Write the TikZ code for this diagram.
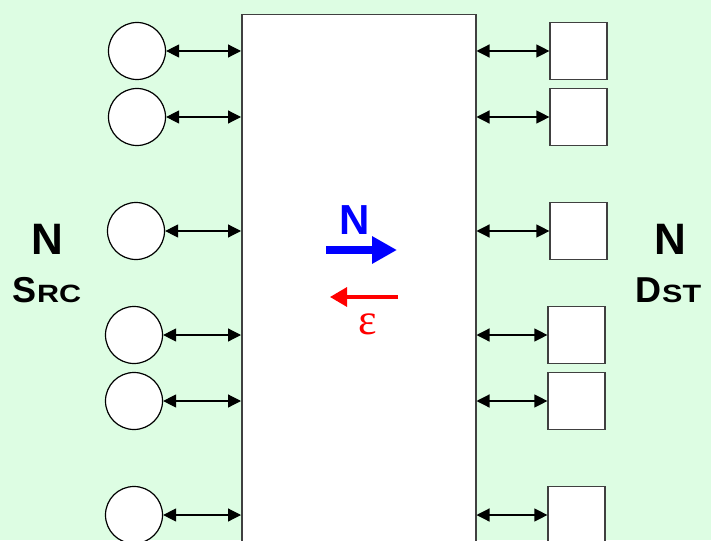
\documentclass[tikz,border=0pt]{standalone}
\usepackage{fontspec}
\usepackage{graphicx}
\setmainfont{Liberation Sans}
\newfontfamily\serifx{Liberation Serif}
\usetikzlibrary{arrows.meta}
\definecolor{bg}{RGB}{221,253,227}
\definecolor{edge}{RGB}{64,64,64}
\begin{document}
\begin{tikzpicture}[x=1pt,y=-1pt,
  src/.style={circle,draw=black,fill=white,line width=1.2pt,minimum size=57pt,inner sep=0pt},
  dst/.style={rectangle,draw=edge,fill=white,line width=1.2pt,minimum width=57pt,minimum height=57pt,inner sep=0pt},
  conn/.style={line width=1.2pt,{Triangle[length=13pt,width=13pt]}-{Triangle[length=13pt,width=13pt]}},
  big/.style={font=\fontsize{44}{44}\selectfont\bfseries,anchor=base,inner sep=0pt},
  sclabel/.style={font=\bfseries,anchor=base west,inner sep=0pt}]
\fill[bg] (0,0) rectangle (711,540);
\useasboundingbox (0,0) rectangle (711,540);
\node[draw=edge,fill=white,line width=1.5pt,rectangle,minimum width=234pt,minimum height=560pt,inner sep=0pt,anchor=north west] (box) at (241,14) {};
% sources
\node[src] (s1) at (137,51) {};
\node[src] (s2) at (137,117) {};
\node[src] (s3) at (136,231) {};
\node[src] (s4) at (134,335) {};
\node[src] (s5) at (134,401) {};
\node[src] (s6) at (134,515) {};
% destinations
\node[dst] (d1) at (578.5,51) {};
\node[dst] (d2) at (578.5,117) {};
\node[dst] (d3) at (578.5,231) {};
\node[dst] (d4) at (576.5,335) {};
\node[dst] (d5) at (576.5,401) {};
\node[dst] (d6) at (576.5,515) {};
\foreach \i in {1,...,6}{
  \draw[conn] (s\i.east) -- (box.west |- s\i.east);
  \draw[conn] (box.east |- d\i.west) -- (d\i.west);
}
% labels
\node[big] (nl) at (47,254) {N};
\node[sclabel] (srcl) at (12,302) {{\fontsize{36}{36}\selectfont S}\hspace{1pt}\scalebox{1.22}[1]{\fontsize{25}{25}\selectfont RC}};
\node[big] (nr) at (670,254) {N};
\node[sclabel] (dstl) at (635,302) {{\fontsize{36}{36}\selectfont D}\hspace{1pt}\scalebox{1.22}[1]{\fontsize{25}{25}\selectfont ST}};
% center
\node[big,font=\fontsize{42}{42}\selectfont\bfseries,text=blue] (nc) at (355,234) {N};
\coordinate (ba) at (326,250);
\coordinate (bb) at (397,250);
\draw[blue,line width=8pt,-{Triangle[length=25pt,width=26pt]}] (ba) -- (bb);
\coordinate (ra) at (398,297);
\coordinate (rb) at (330,297);
\draw[red,line width=3.2pt,-{Triangle[length=17pt,width=19pt]}] (ra) -- (rb);
\node[anchor=base,inner sep=0pt,text=red,font=\serifx\fontsize{44}{44}\selectfont] (eps) at (368,334) {ε};
\end{tikzpicture}
\end{document}
